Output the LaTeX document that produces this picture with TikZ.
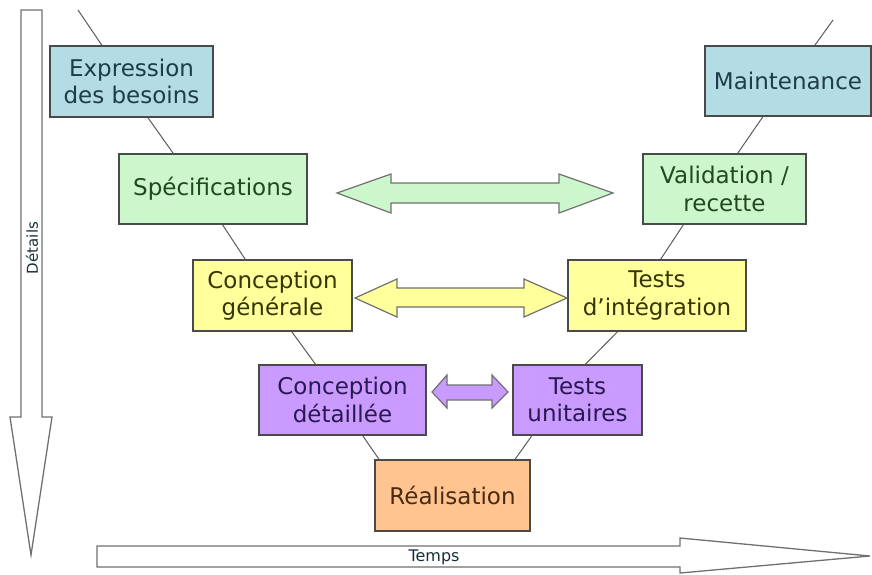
\documentclass[tikz,border=0pt]{standalone}
\usepackage{fontspec}
\setmainfont{DejaVu Sans}
\usetikzlibrary{calc}
\definecolor{fblue}{HTML}{B4DCE4}
\definecolor{fgreen}{HTML}{CCF7CC}
\definecolor{fyellow}{HTML}{FFFF9C}
\definecolor{fpurple}{HTML}{C99BFF}
\definecolor{forange}{HTML}{FFC490}
\definecolor{tblue}{HTML}{1C3D4A}
\definecolor{tgreen}{HTML}{1F4A1F}
\definecolor{tyellow}{HTML}{353500}
\definecolor{tpurple}{HTML}{2A1850}
\definecolor{torange}{HTML}{4A2A10}
\definecolor{bordergrey}{HTML}{4A4A4A}
\definecolor{linegrey}{HTML}{5A5A5A}
\definecolor{arrowgrey}{HTML}{707070}
\tikzset{
  box/.style={draw=bordergrey, line width=1.3pt, inner sep=0pt, align=center,
    font=\fontsize{23}{27.5}\selectfont},
  vline/.style={draw=linegrey, line width=1pt},
  bigarrow/.style={draw=arrowgrey, line width=1.2pt, line join=miter},
  axisarrow/.style={draw=arrowgrey, line width=1.3pt, fill=white, line join=miter},
  axislabel/.style={font=\fontsize{15}{17}\selectfont, text=tblue!80!black}
}
\newcommand\bpt[3]{($(#1.#2 west)!#3!(#1.#2 east)$)}
\begin{document}
\begin{tikzpicture}[x=1pt,y=-1pt]
\useasboundingbox (0,0) rectangle (872,574);
% axes
\draw[axisarrow] (21,10) -- (42,10) -- (42,417) -- (52,417) -- (31,555) -- (10,417) -- (21,417) -- cycle;
\node[axislabel, rotate=90] (details) at (32,248) {Détails};
\draw[axisarrow] (97,546) -- (680,546) -- (680,538) -- (870,556) -- (680,573) -- (680,567) -- (97,567) -- cycle;
\node[axislabel, font=\fontsize{16}{18}\selectfont] (temps) at (434,557) {Temps};
% boxes
\node[box, fill=fblue, text=tblue, minimum width=163pt, minimum height=71pt] (exp) at (131.5,81.5) {Expression\\des besoins};
\node[box, fill=fgreen, text=tgreen, minimum width=188pt, minimum height=70pt] (spec) at (213,189) {Spécifications};
\node[box, fill=fyellow, text=tyellow, minimum width=159pt, minimum height=71pt] (cgen) at (272.5,295.5) {Conception\\générale};
\node[box, fill=fpurple, text=tpurple, minimum width=167pt, minimum height=70pt] (cdet) at (342.5,400) {Conception\\détaillée};
\node[box, fill=forange, text=torange, minimum width=155pt, minimum height=71pt] (real) at (452.5,495.5) {Réalisation};
\node[box, fill=fpurple, text=tpurple, minimum width=129pt, minimum height=70pt] (unit) at (577.5,400) {Tests\\unitaires};
\node[box, fill=fyellow, text=tyellow, minimum width=178pt, minimum height=71pt] (integ) at (657,295.5) {Tests\\d’intégration};
\node[box, fill=fgreen, text=tgreen, minimum width=163pt, minimum height=70pt] (valid) at (724.5,189) {Validation /\\recette};
\node[box, fill=fblue, text=tblue, minimum width=166pt, minimum height=70pt] (maint) at (788,81) {Maintenance};
% V lines
\coordinate (topL) at (78,10);
\coordinate (topR) at (833,20);
\draw[vline] (topL) -- \bpt{exp}{north}{0.32};
\draw[vline] \bpt{exp}{south}{0.60} -- \bpt{spec}{north}{0.29};
\draw[vline] \bpt{spec}{south}{0.55} -- \bpt{cgen}{north}{0.33};
\draw[vline] \bpt{cgen}{south}{0.62} -- \bpt{cdet}{north}{0.34};
\draw[vline] \bpt{cdet}{south}{0.62} -- \bpt{real}{north}{0.03};
\draw[vline] \bpt{real}{north}{0.90} -- \bpt{unit}{south}{0.15};
\draw[vline] \bpt{unit}{north}{0.56} -- \bpt{integ}{south}{0.28};
\draw[vline] \bpt{integ}{north}{0.52} -- \bpt{valid}{south}{0.25};
\draw[vline] \bpt{valid}{north}{0.58} -- \bpt{maint}{south}{0.35};
\draw[vline] \bpt{maint}{north}{0.66} -- (topR);
% double arrows
\draw[bigarrow, fill=fgreen] (337,193) -- (391,174) -- (391,183) -- (559,183) -- (559,174) -- (613,193) -- (559,213) -- (559,203) -- (391,203) -- (391,213) -- cycle;
\draw[bigarrow, fill=fyellow] (355,298) -- (397,279) -- (397,288) -- (524,288) -- (524,279) -- (567,298) -- (524,317) -- (524,307) -- (397,307) -- (397,317) -- cycle;
\draw[bigarrow, fill=fpurple] (432,392) -- (447,375) -- (447,385) -- (492,385) -- (492,375) -- (508,392) -- (492,408) -- (492,400) -- (447,400) -- (447,408) -- cycle;
\end{tikzpicture}
\end{document}
